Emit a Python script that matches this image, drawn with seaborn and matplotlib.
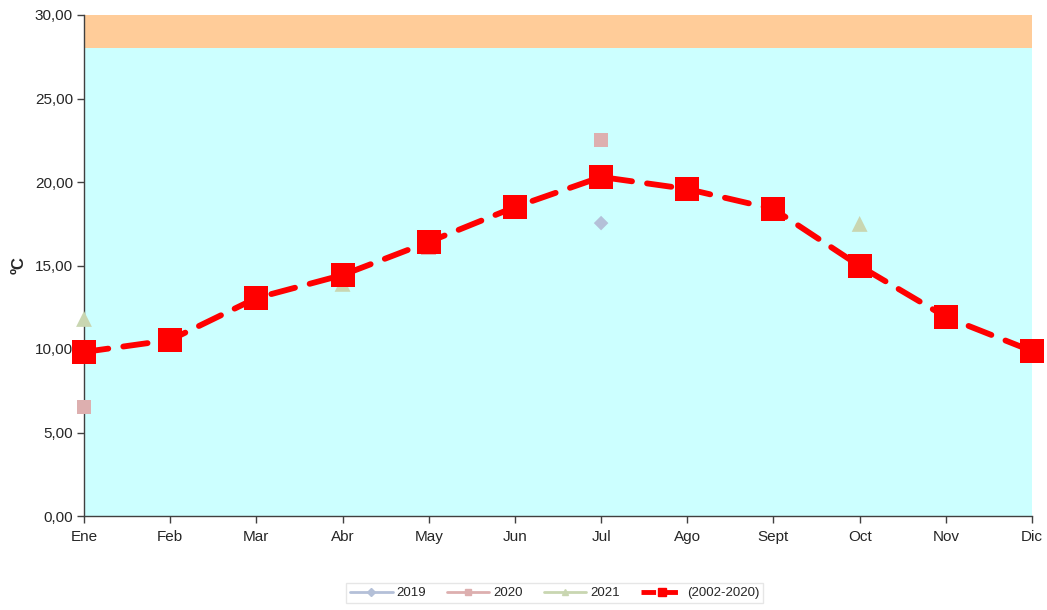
import matplotlib
matplotlib.use("Agg")
import matplotlib.pyplot as plt
from matplotlib.lines import Line2D
import numpy as np
import pandas as pd
import seaborn as sns

months = ["Ene", "Feb", "Mar", "Abr", "May", "Jun", "Jul", "Ago", "Sept", "Oct", "Nov", "Dic"]
mean_2002_2020 = [9.82, 10.54, 13.05, 14.43, 16.41, 18.50, 20.30, 19.58, 18.38, 14.97, 11.92, 9.88]
y2019 = [np.nan, np.nan, np.nan, np.nan, np.nan, np.nan, 17.54, np.nan, np.nan, np.nan, np.nan, np.nan]
y2020 = [6.53, np.nan, np.nan, np.nan, 16.05, np.nan, 22.51, np.nan, np.nan, np.nan, np.nan, np.nan]
y2021 = [11.80, np.nan, np.nan, 13.90, np.nan, np.nan, np.nan, np.nan, np.nan, 17.49, np.nan, np.nan]
yticks = [0, 5, 10, 15, 20, 25, 30]

c2019 = "#B4C0D8"
c2020 = "#DDAFAF"
c2021 = "#C9D6B1"
cmean = "#FF0000"

sns.set_style("white")
plt.rcParams["font.family"] = ["Liberation Sans", "DejaVu Sans"]

fig = plt.figure(figsize=(10.47, 6.10), dpi=100)
ax = fig.add_axes([84/1047, 1-516/610, (1032-84)/1047, (516-15)/610])

x = np.arange(len(months))
ax.axhspan(0, 28, color="#CCFFFF", zorder=0, lw=0)
ax.axhspan(28, 30, color="#FFCC99", zorder=0, lw=0)

df_years = pd.DataFrame({"x": np.tile(x, 3),
                         "val": y2019 + y2020 + y2021,
                         "serie": ["2019"]*12 + ["2020"]*12 + ["2021"]*12}).dropna()
for serie, col, mk, ms in [("2019", c2019, "D", 55), ("2020", c2020, "s", 110), ("2021", c2021, "^", 130)]:
    d = df_years[df_years.serie == serie]
    sns.scatterplot(data=d, x="x", y="val", ax=ax, color=col, marker=mk, s=ms,
                    edgecolor="none", zorder=3, clip_on=False, legend=False)

df_mean = pd.DataFrame({"x": x, "val": mean_2002_2020})
sns.lineplot(data=df_mean, x="x", y="val", ax=ax, color=cmean, lw=4.2, zorder=4,
             legend=False)
ln = ax.lines[-1]
ln.set_dashes([4.2, 2.6])
ln.set_solid_capstyle("round")
ln.set_dash_capstyle("round")
ln.set_clip_on(False)
sns.scatterplot(data=df_mean, x="x", y="val", ax=ax, color=cmean, marker="s", s=300,
                edgecolor="none", zorder=5, clip_on=False, legend=False)

ax.set_xlim(0, 11)
ax.set_ylim(0, 30)
ax.set_xticks(x)
ax.set_xticklabels(months, fontsize=11)
ax.set_yticks(yticks)
ax.set_yticklabels([f"{v:.2f}".replace(".", ",") for v in yticks], fontsize=11)
ax.set_xlabel("")
ax.set_ylabel("ºC", fontsize=12, fontweight="bold", labelpad=6)
for s in ["top", "right"]:
    ax.spines[s].set_visible(False)
for s in ["left", "bottom"]:
    ax.spines[s].set_color("#404040")
    ax.spines[s].set_linewidth(1)
ax.tick_params(axis="both", direction="out", length=5, width=1, color="#404040",
               bottom=True, left=True, pad=3)
ax.tick_params(axis="x", pad=5)

handles = [
    Line2D([], [], color=c2019, lw=2, marker="D", ms=4),
    Line2D([], [], color=c2020, lw=2, marker="s", ms=5),
    Line2D([], [], color=c2021, lw=2, marker="^", ms=5),
    Line2D([], [], color=cmean, lw=3.5, ls=(0, (3, 1.5)), marker="s", ms=6),
]
leg = fig.legend(handles, ["2019", "2020", "2021", "(2002-2020)"], loc="lower center",
                 bbox_to_anchor=(0.53, 0.0), ncol=4, fontsize=9.5, frameon=True,
                 fancybox=False, edgecolor="#E0E0E0", handlelength=3.2,
                 handletextpad=0.3, columnspacing=1.6, borderpad=0.3)

fig.savefig("out.png", dpi=100)
